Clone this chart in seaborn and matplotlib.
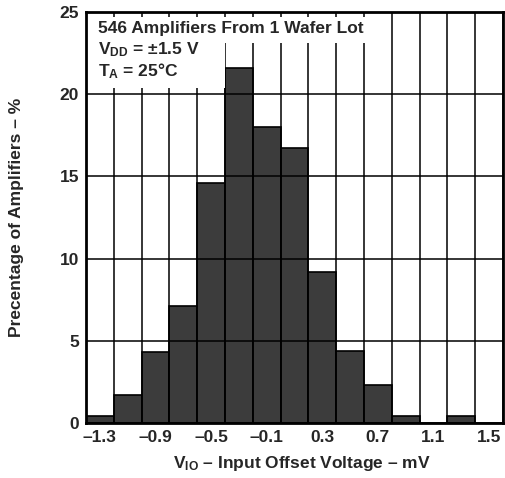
import numpy as np
import pandas as pd
import matplotlib
matplotlib.use("Agg")
import matplotlib.pyplot as plt
import matplotlib.transforms as mtransforms
from matplotlib.patches import Rectangle
import seaborn as sns

# bin centres (mV) and percentage of amplifiers in each bin
vio_centers = [-1.3, -1.1, -0.9, -0.7, -0.5, -0.3, -0.1, 0.1, 0.3, 0.5, 0.7, 0.9, 1.1, 1.3, 1.5]
pct = [0.4, 1.7, 4.3, 7.1, 14.6, 21.6, 18.0, 16.7, 9.2, 4.4, 2.3, 0.4, 0.0, 0.4, 0.0]
xticks = [-1.3, -0.9, -0.5, -0.1, 0.3, 0.7, 1.1, 1.5]
yticks = [0, 5, 10, 15, 20, 25]

df = pd.DataFrame({"vio": vio_centers, "pct": pct})

sns.set_style("white")
plt.rcParams["font.family"] = ["Liberation Sans", "DejaVu Sans"]
plt.rcParams["font.weight"] = "bold"
plt.rcParams["mathtext.fontset"] = "custom"
plt.rcParams["mathtext.rm"] = "Liberation Sans:bold"
plt.rcParams["mathtext.it"] = "Liberation Sans:bold"
plt.rcParams["mathtext.bf"] = "Liberation Sans:bold"

FS = 12.5

fig = plt.figure(figsize=(5.06, 4.78), dpi=100)
ax = fig.add_axes([0.170, 0.115, 0.824, 0.860])

edges = [round(e, 2) for e in np.arange(-1.4, 1.61, 0.2)]
sns.histplot(data=df, x="vio", weights="pct", bins=edges,
             color="#3c3c3c", edgecolor="black", linewidth=1.2, alpha=1, ax=ax)

# grid drawn on top of the bars like the original
for e in edges:
    ax.axvline(e, color="black", lw=1.1, zorder=3)
for y in yticks[1:-1]:
    ax.axhline(y, color="black", lw=1.1, zorder=3)

ax.set_xlim(-1.4, 1.6)
ax.set_ylim(0, 25)
ax.set_xticks(xticks)
ax.set_xticklabels(["\u2013" + f"{abs(t):.1f}" if t < 0 else f"{t:.1f}" for t in xticks])
ax.set_yticks(yticks)
ax.tick_params(axis="x", length=0, labelsize=FS, pad=5)
ax.tick_params(axis="y", length=0, labelsize=FS, pad=5)
for lab in ax.get_xticklabels() + ax.get_yticklabels():
    lab.set_fontweight("bold")
for s in ax.spines.values():
    s.set_linewidth(2)
    s.set_color("black")
    s.set_zorder(5)

ax.set_xlabel("V$_{\\mathrm{IO}}$ \u2013 Input Offset Voltage \u2013 mV", fontsize=FS, fontweight="bold")
ax.set_ylabel("Precentage of Amplifiers \u2013 %", fontsize=FS, fontweight="bold")
ax.xaxis.set_label_coords(0.518, -0.075)
ax.yaxis.set_label_coords(-0.148, 0.5)

# white backing behind the annotation, as in the original (kept clear of the tallest bar)
trans = mtransforms.blended_transform_factory(ax.transData, ax.transAxes)
ax.add_patch(Rectangle((-1.4, 0.925), 2.05, 0.063, transform=trans,
                       facecolor="white", edgecolor="none", zorder=4))
ax.add_patch(Rectangle((-1.4, 0.815), 1.0, 0.115, transform=trans,
                       facecolor="white", edgecolor="none", zorder=4))
ax.text(0.029, 0.978, "546 Amplifiers From 1 Wafer Lot", transform=ax.transAxes,
        fontsize=FS, fontweight="bold", va="top", ha="left", zorder=6)
ax.text(0.029, 0.930, "V$_{\\mathrm{DD}}$ = \u00b11.5 V\nT$_{\\mathrm{A}}$ = 25\u00b0C", transform=ax.transAxes,
        fontsize=FS, fontweight="bold", va="top", ha="left", zorder=6, linespacing=1.1)

fig.savefig("out.png", dpi=100)
